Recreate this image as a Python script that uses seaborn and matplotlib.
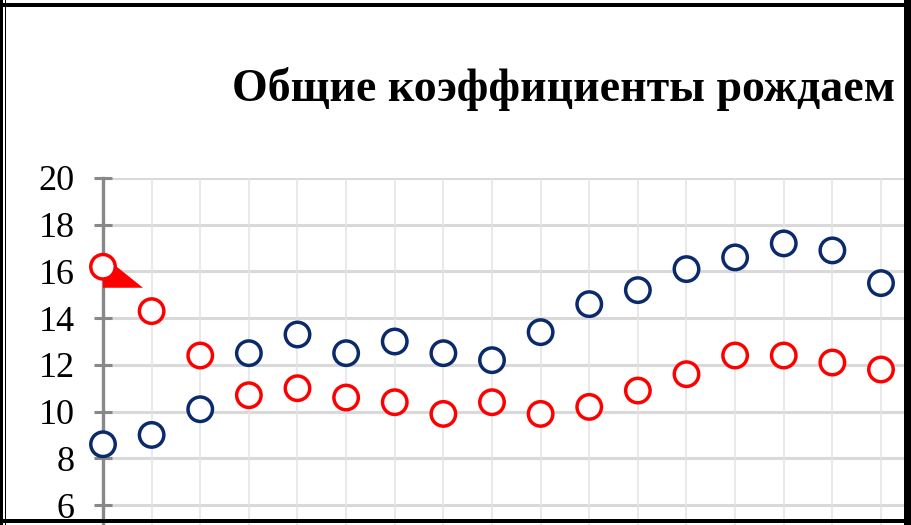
import pandas as pd
import matplotlib.pyplot as plt
import matplotlib.transforms as mtransforms
from matplotlib.patches import Rectangle, Polygon
import seaborn as sns

# chart values
positions = list(range(1, 18))
blue_vals = [8.6, 9.0, 10.1, 12.5, 13.3, 12.5, 13.0, 12.5, 12.2, 13.4,
             14.6, 15.2, 16.1, 16.6, 17.2, 16.9, 15.5]
red_vals = [16.2, 14.3, 12.4, 10.7, 11.0, 10.6, 10.4, 9.9, 10.4, 9.9,
            10.2, 10.9, 11.6, 12.4, 12.4, 12.1, 11.8]
series_names = ['ряд 1', 'ряд 2']
y_ticks = [6, 8, 10, 12, 14, 16, 18, 20]
title = 'Общие коэффициенты рождаем'

df = pd.DataFrame({
    'x': positions * 2,
    'y': blue_vals + red_vals,
    'series': [series_names[0]] * len(blue_vals) + [series_names[1]] * len(red_vals),
})

sns.set_style('white')
plt.rcParams['font.family'] = ['Liberation Serif', 'DejaVu Serif']

W, H = 912, 525
fig = plt.figure(figsize=(W / 100, H / 100), dpi=100)

# plot area: x=1 at px 103, y=20 at px 178, y=6 at px 505
px_per_y = (505 - 178) / 14
px_per_x = (881 - 103) / 16
ax = fig.add_axes([103 / W, 0, 1 - 103 / W, (H - 178) / H])
ax.set_ylim(6 - (H - 505) / px_per_y, 20)
ax.set_xlim(1, 1 + (W - 103) / px_per_x)

for y in y_ticks:
    ax.axhline(y, color='#d9d9d9', lw=2.2, zorder=0)
for x in positions:
    ax.axvline(x, color='#e3e3e3', lw=1.1, zorder=0)

# red wedge under first red marker
tri = Polygon([(0, -5), (10, 3), (40, -21), (0, -21)], closed=True,
              facecolor='#ff0000', edgecolor='none', zorder=2,
              transform=mtransforms.Affine2D().translate(
                  *ax.transData.transform((positions[0], red_vals[0]))))
ax.add_patch(tri)

sns.scatterplot(data=df, x='x', y='y', hue='series',
                palette=['#0b2a6b', '#ff0000'], ax=ax, s=310,
                marker='o', linewidth=2.5, legend=False, zorder=3)
# hollow markers: edge in series colour, white fill
pts = ax.collections[-1]
pts.set_edgecolors(['#0b2a6b'] * len(blue_vals) + ['#ff0000'] * len(red_vals))
pts.set_facecolors('white')
pts.set_clip_on(False)

for s in ['top', 'right', 'bottom']:
    ax.spines[s].set_visible(False)
ax.spines['left'].set_color('#888888')
ax.spines['left'].set_linewidth(2.4)
ax.spines['left'].set_zorder(1)
ax.set_yticks(y_ticks)
ax.set_xticks([])
ax.tick_params(axis='y', direction='inout', length=13, width=2.2,
               color='#888888', pad=14, labelsize=26, labelcolor='black', left=True)
ax.set_xlabel('')
ax.set_ylabel('')

fig.text(232 / W, 1 - 101 / H, title, fontsize=33, fontweight='bold',
         ha='left', va='baseline', color='black')

# double frame around the chart
frame = [
    Rectangle((0, 0), 3 / W, 1),
    Rectangle((5 / W, 0), 1.5 / W, 1),
    Rectangle((0, 1 - 7 / H), 1, 4 / H),
    Rectangle((904 / W, 0), 8 / W, 1),
    Rectangle((0, 2 / H), 1, 4 / H),
]
for r in frame:
    r.set_transform(fig.transFigure)
    r.set_facecolor('black')
    r.set_edgecolor('none')
    r.set_zorder(10)
    fig.patches.append(r)
fig.add_artist(Rectangle((0, 1 - 3 / H), 1, 3 / H, transform=fig.transFigure,
                         facecolor='white', edgecolor='none', zorder=9))

fig.savefig('out.png', dpi=100)
